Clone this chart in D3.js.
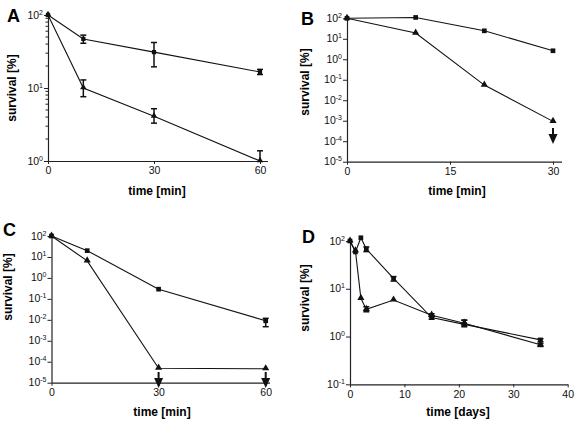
<!DOCTYPE html>
<html><head><meta charset="utf-8">
<script src="https://cdn.jsdelivr.net/npm/d3@7"></script>
<style>body{margin:0;background:#fff}svg{display:block}text{font-family:"Liberation Sans",Arial,sans-serif}</style>
</head><body>
<script>
// ---- data ----
const A_time = [0, 10, 30, 60];
const A_sq = [100, 47, 31, 16.6];
const A_sqLo = [null, 41, 19.5, 15.3];
const A_sqHi = [null, 53, 42, 18];
const A_tri = [100, 10, 4.1, 1.0];
const A_triLo = [null, 7.6, 3.3, 0.7];
const A_triHi = [null, 12.9, 5.2, 1.38];
const A_xTicks = [0, 30, 60];
const A_yExp = [0, 1, 2];

const B_time = [0, 10, 20, 30];
const B_sq = [100, 110, 24.5, 2.6];
const B_tri = [100, 19, 0.055, 0.00093];
const B_xTicks = [0, 15, 30];
const B_yExp = [-5, -4, -3, -2, -1, 0, 1, 2];
const B_arrowX = [30];

const C_time = [0, 10, 30, 60];
const C_sq = [100, 20, 0.29, 0.009];
const C_sqLo = [null, null, null, 0.0047];
const C_sqHi = [null, null, null, 0.0118];
const C_tri = [100, 6.5, 4.9e-5, 4.6e-5];
const C_xTicks = [0, 30, 60];
const C_yExp = [-5, -4, -3, -2, -1, 0, 1, 2];
const C_arrowX = [30, 60];

const D_time = [0, 1, 2, 3, 8, 15, 21, 35];
const D_sq = [100, 59, 117, 68, 16.5, 2.5, 1.8, 0.85];
const D_sqLo = [null, null, null, 60, 14.5, 2.3, 1.6, 0.78];
const D_sqHi = [null, null, null, 75, 18, 2.7, 2.2, 0.9];
const D_tri = [100, 62, 6.3, 3.7, 5.8, 2.8, 1.9, 0.67];
const D_triLo = [null, null, null, 3.3, null, 2.6, 1.7, 0.62];
const D_triHi = [null, null, null, 4.2, null, 3.0, 2.2, 0.72];
const D_xTicks = [0, 10, 20, 30, 40];
const D_yExp = [-1, 0, 1, 2];

const svg = d3.select("body").append("svg").attr("width", 577).attr("height", 426);

function panel(cfg) {
  const g = svg.append("g");
  const x = d3.scaleLinear().domain(cfg.xDom).range(cfg.xRange);
  const y = d3.scaleLog().domain(cfg.yDom).range(cfg.yRange);
  const y0 = cfg.yRange[0];
  // x axis
  const xa = d3.axisBottom(x).tickValues(cfg.xTicks).tickSize(3).tickPadding(3).tickFormat(d3.format("d"));
  const gx = g.append("g").attr("transform", `translate(0,${y0})`).call(xa);
  gx.select(".domain").attr("d", `M${cfg.xRange[0]},0.5H${cfg.axisEnd}`).attr("stroke", "#222").attr("stroke-width", 1.2);
  gx.selectAll(".tick line").attr("stroke", "#222");
  gx.selectAll(".tick text").attr("font-size", 10.5).attr("fill", "#111");
  // y axis
  const ya = d3.axisLeft(y).tickValues(cfg.yExp.map(e => Math.pow(10, e))).tickSize(4).tickFormat("");
  const gy = g.append("g").attr("transform", `translate(${cfg.xRange[0]},0)`).call(ya);
  gy.select(".domain").attr("d", `M0.5,${y0}V${cfg.yRange[1]}`).attr("stroke", "#222").attr("stroke-width", 1.2);
  gy.selectAll(".tick line").attr("stroke", "#222");
  if (cfg.minor) {
    const mins = [];
    for (let e = cfg.yExp[0]; e < cfg.yExp[cfg.yExp.length - 1]; e++)
      for (let k = 2; k <= 9; k++) mins.push(k * Math.pow(10, e));
    gy.selectAll(".minor").data(mins).enter().append("line").attr("class", "minor")
      .attr("x1", -2.5).attr("x2", 0).attr("y1", d => y(d)).attr("y2", d => y(d)).attr("stroke", "#222");
  }
  const lab = g.append("g").selectAll("text").data(cfg.yExp).enter().append("text")
    .attr("x", cfg.xRange[0] - 5).attr("y", d => y(Math.pow(10, d)) + 3.5)
    .attr("text-anchor", "end").attr("font-size", 10.5).attr("fill", "#111");
  lab.append("tspan").text("10");
  lab.append("tspan").attr("dy", -4).attr("font-size", 7).text(d => d < 0 ? "-" + (-d) : d);
  // titles
  g.append("text").attr("x", cfg.xTitle[0]).attr("y", cfg.xTitle[1]).attr("text-anchor", "middle")
    .attr("font-size", 12).attr("font-weight", "bold").text(cfg.xLabel);
  g.append("text").attr("transform", `translate(${cfg.yTitle[0]},${cfg.yTitle[1]}) rotate(-90)`)
    .attr("text-anchor", "middle").attr("font-size", 12).attr("font-weight", "bold").text("survival [%]");
  g.append("text").attr("x", cfg.letter[0]).attr("y", cfg.letter[1]).attr("font-size", 18)
    .attr("font-weight", "bold").text(cfg.name);
  // series
  const line = d3.line().x(d => x(d.t)).y(d => y(d.v));
  cfg.series.forEach(s => {
    const pts = cfg.time.map((t, i) => ({t, v: s.v[i], lo: s.lo ? s.lo[i] : null, hi: s.hi ? s.hi[i] : null}));
    g.append("path").datum(pts).attr("d", line).attr("fill", "none").attr("stroke", "#111").attr("stroke-width", 1.1);
    const eb = pts.filter(p => p.lo != null);
    const clampY = v => Math.min(y0, y(v));
    eb.forEach(p => {
      const xx = x(p.t), yl = clampY(p.lo), yh = y(p.hi);
      g.append("line").attr("x1", xx).attr("x2", xx).attr("y1", yl).attr("y2", yh).attr("stroke", "#111").attr("stroke-width", 1.5);
      g.append("line").attr("x1", xx - 3).attr("x2", xx + 3).attr("y1", yh).attr("y2", yh).attr("stroke", "#111").attr("stroke-width", 1.5);
      if (y(p.lo) <= y0) g.append("line").attr("x1", xx - 3).attr("x2", xx + 3).attr("y1", yl).attr("y2", yl).attr("stroke", "#111").attr("stroke-width", 1.5);
    });
    const sym = d3.symbol().type(s.shape === "sq" ? d3.symbolSquare : d3.symbolTriangle).size(cfg.msize);
    g.selectAll(null).data(pts).enter().append("path")
      .attr("transform", p => `translate(${x(p.t)},${y(p.v) + (s.shape === "sq" ? 0 : -0.5)})`)
      .attr("d", sym).attr("fill", "#111");
  });
  // arrows
  (cfg.arrows || []).forEach(a => {
    const xx = x(a);
    const [t1, t2] = cfg.arrowY;
    g.append("line").attr("x1", xx).attr("x2", xx).attr("y1", t1).attr("y2", t2 - 6).attr("stroke", "#111").attr("stroke-width", 2);
    g.append("path").attr("d", `M${xx - 4.5},${t2 - 10}L${xx + 4.5},${t2 - 10}L${xx},${t2}Z`).attr("fill", "#111");
  });
}

panel({name: "A", letter: [7, 22], xDom: [0, 60], xRange: [48, 260], axisEnd: 268,
  yDom: [1, 100], yRange: [161, 15], yExp: A_yExp, xTicks: A_xTicks, minor: true, msize: 18,
  time: A_time, xLabel: "time [min]", xTitle: [157, 195], yTitle: [16, 88],
  series: [{v: A_sq, lo: A_sqLo, hi: A_sqHi, shape: "sq"}, {v: A_tri, lo: A_triLo, hi: A_triHi, shape: "tri"}]});

panel({name: "B", letter: [301, 25], xDom: [0, 30], xRange: [347, 553], axisEnd: 562,
  yDom: [1e-5, 100], yRange: [161.7, 18.3], yExp: B_yExp, xTicks: B_xTicks, msize: 22,
  time: B_time, xLabel: "time [min]", xTitle: [457, 195], yTitle: [309, 82], arrows: B_arrowX, arrowY: [128, 144],
  series: [{v: B_sq, shape: "sq"}, {v: B_tri, shape: "tri"}]});

panel({name: "C", letter: [3, 236], xDom: [0, 60], xRange: [51.5, 265.7], axisEnd: 270,
  yDom: [1e-5, 100], yRange: [382.7, 236], yExp: C_yExp, xTicks: C_xTicks, msize: 22,
  time: C_time, xLabel: "time [min]", xTitle: [162, 416], yTitle: [12, 287], arrows: C_arrowX, arrowY: [372, 388],
  series: [{v: C_sq, lo: C_sqLo, hi: C_sqHi, shape: "sq"}, {v: C_tri, shape: "tri"}]});

panel({name: "D", letter: [302, 243], xDom: [0, 40], xRange: [350, 567.7], axisEnd: 568,
  yDom: [0.1, 100], yRange: [384.3, 241], yExp: D_yExp, xTicks: D_xTicks, msize: 22,
  time: D_time, xLabel: "time [days]", xTitle: [458, 416], yTitle: [309, 298],
  series: [{v: D_sq, lo: D_sqLo, hi: D_sqHi, shape: "sq"}, {v: D_tri, lo: D_triLo, hi: D_triHi, shape: "tri"}]});
</script>
</body></html>
